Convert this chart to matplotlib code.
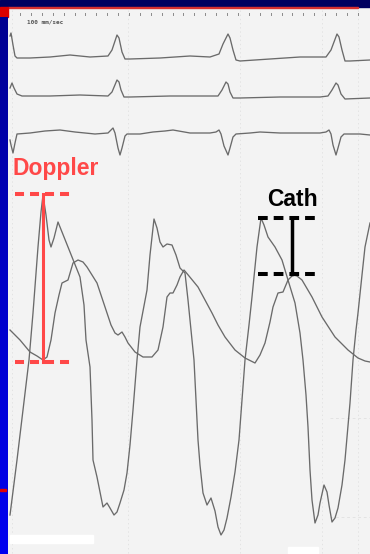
import numpy as np
import matplotlib
matplotlib.use('Agg')
import matplotlib.pyplot as plt

# traces, in pixel coordinates (x, y from the top)
ecg1_x = [10, 11, 13, 15, 17, 30, 50, 70, 90, 108, 112, 117, 119, 122, 125, 130, 160, 190, 210, 219, 223, 228, 230, 233, 236, 240, 270, 300, 326, 331, 337, 339, 342, 345, 350, 370]
ecg1_y = [36, 33, 45, 56, 58, 58, 57, 55, 57, 56, 50, 35, 38, 52, 59, 59, 58, 56, 57, 54, 44, 34, 38, 50, 60, 61, 59, 57, 57, 50, 34, 37, 50, 61, 61, 60]

ecg2_x = [10, 12, 14, 17, 22, 50, 80, 108, 112, 117, 119, 121, 124, 130, 170, 200, 218, 222, 226, 228, 230, 233, 240, 280, 320, 328, 332, 336, 338, 341, 345, 370]
ecg2_y = [88, 83, 88, 94, 96, 96, 95, 96, 92, 80, 82, 90, 97, 97, 96, 96, 96, 90, 82, 84, 92, 98, 98, 97, 97, 96, 90, 83, 85, 94, 99, 98]

ecg3_x = [10, 11, 13, 15, 17, 30, 45, 60, 75, 95, 108, 111, 113, 115, 118, 120, 122, 125, 127, 140, 153, 165, 173, 190, 210, 216, 219, 221, 224, 228, 230, 233, 236, 250, 260, 280, 300, 320, 326, 329, 331, 333, 336, 338, 341, 344, 360, 370]
ecg3_y = [140, 145, 153, 143, 134, 133, 131, 130, 132, 134, 133, 130, 128, 133, 148, 155, 148, 136, 134, 134, 132, 131, 130, 133, 133, 132, 130, 134, 146, 155, 148, 137, 134, 133, 132, 133, 133, 133, 132, 130, 134, 145, 155, 148, 137, 134, 134, 135]

lv_x = [10, 17, 23, 29, 33, 38, 41, 43, 46, 49, 51, 54, 58, 62, 68, 74, 80, 84, 86, 90, 92, 93, 97, 100, 103, 107, 110, 114, 117, 120, 124, 127, 130, 133, 137, 140, 147, 150, 154, 157, 160, 163, 167, 172, 176, 180, 185, 188, 191, 194, 196, 198, 200, 203, 207, 211, 215, 218, 221, 224, 227, 231, 235, 239, 242, 245, 249, 252, 257, 261, 264, 268, 275, 282, 288, 295, 300, 303, 306, 308, 310, 312, 315, 318, 320, 324, 327, 329, 332, 335, 338, 342, 345, 350, 353, 356, 358, 362, 365, 370]
lv_y = [515, 460, 410, 360, 313, 247, 212, 195, 215, 240, 247, 238, 222, 232, 247, 262, 277, 305, 340, 367, 420, 460, 477, 492, 507, 503, 508, 515, 512, 503, 490, 473, 445, 410, 360, 327, 290, 255, 219, 228, 242, 247, 244, 245, 255, 268, 273, 300, 330, 360, 400, 440, 465, 493, 505, 498, 511, 527, 535, 530, 518, 497, 472, 440, 400, 360, 325, 297, 247, 218, 225, 237, 247, 260, 280, 303, 333, 360, 395, 427, 470, 500, 523, 515, 503, 485, 492, 505, 522, 518, 508, 485, 460, 403, 360, 330, 313, 275, 247, 223]

ao_x = [10, 20, 30, 37, 43, 47, 51, 55, 59, 62, 68, 73, 78, 83, 87, 92, 97, 102, 107, 111, 115, 118, 122, 125, 128, 135, 143, 152, 158, 163, 167, 170, 173, 177, 180, 184, 189, 198, 205, 212, 218, 225, 235, 245, 255, 260, 265, 270, 273, 278, 283, 288, 293, 297, 302, 312, 322, 335, 348, 358, 365, 370]
ao_y = [330, 340, 352, 356, 360, 357, 340, 313, 295, 283, 280, 263, 260, 262, 267, 275, 283, 298, 313, 325, 333, 335, 332, 337, 343, 352, 357, 357, 350, 327, 297, 293, 293, 285, 277, 270, 276, 287, 300, 313, 325, 337, 350, 358, 363, 355, 343, 322, 307, 293, 292, 280, 275, 276, 280, 297, 317, 337, 350, 358, 361, 362]

# annotation levels
doppler_top, doppler_bottom, doppler_x = 194, 362, 43
cath_top, cath_bottom, cath_x = 218, 274, 292

plt.rcParams['lines.scale_dashes'] = False
fig = plt.figure(figsize=(3.7, 5.54), dpi=100)
fig.patch.set_facecolor('#f3f3f3')
ax = fig.add_axes([0, 0, 1, 1])
ax.set_xlim(0, 370)
ax.set_ylim(554, 0)
ax.axis('off')

# frame of the slide
ax.add_patch(plt.Rectangle((0, 0), 370, 6.5, color='#000060', zorder=5))
ax.add_patch(plt.Rectangle((8, 6.5), 350, 1.5, color='#d83030', zorder=5))
ax.add_patch(plt.Rectangle((0, 6.5), 7.5, 10.5, color='#dd0000', zorder=5))
grad = np.linspace(0, 1, 200).reshape(-1, 1)
ax.imshow(grad, extent=(0, 8, 554, 17), aspect='auto', zorder=5,
          cmap=matplotlib.colors.LinearSegmentedColormap.from_list('b', ['#000090', '#0000c8', '#0000f0']))
ax.add_patch(plt.Rectangle((0, 489), 6, 1.5, color='#dd0000', zorder=6))
ax.add_patch(plt.Rectangle((10, 535), 83, 8, color='white', zorder=4))
ax.add_patch(plt.Rectangle((288, 547), 30, 7, color='white', zorder=4))

# faint paper grid
for gx in [12, 128, 240, 322, 358]:
    ax.plot([gx, gx], [10, 554], color='#e0e0e0', lw=0.6, ls=(0, (1, 2)), zorder=1)
for gy in [418, 517]:
    ax.plot([330, 370], [gy, gy], color='#e0e0e0', lw=0.6, ls=(0, (2, 2)), zorder=1)

# timing marks along the top
tick_x = np.arange(20, 362, 10.9)
for i, tx in enumerate(tick_x):
    h = 2.5 if i % 5 == 4 else 1.2
    ax.plot([tx, tx], [14 - h / 2, 14 + h / 2], color='#8a8a8a', lw=0.7, zorder=2)
ax.text(27, 24, '100 mm/sec', fontsize=4.3, family='DejaVu Sans Mono',
        fontweight='bold', color='#555555', zorder=3)

# traces
for xs, ys in [(ecg1_x, ecg1_y), (ecg2_x, ecg2_y), (ecg3_x, ecg3_y), (lv_x, lv_y), (ao_x, ao_y)]:
    ax.plot(xs, ys, color='#6a6a6a', lw=0.95, solid_joinstyle='round', zorder=3)

# Doppler gradient
red = '#ff4848'
ax.plot([15, 75], [doppler_top, doppler_top], color=red, lw=2.9, dashes=(6.5, 4.3), solid_capstyle='butt', zorder=6)
ax.plot([15, 75], [doppler_bottom, doppler_bottom], color=red, lw=2.9, dashes=(6.5, 4.3), solid_capstyle='butt', zorder=6)
ax.plot([doppler_x, doppler_x], [doppler_top, doppler_bottom], color=red, lw=2.2, zorder=6)
ax.text(12, 175, 'Doppler', color=red, fontsize=16.5, family='Liberation Sans',
        fontweight='bold', va='baseline', zorder=7)

# Cath gradient
ax.plot([258, 318], [cath_top, cath_top], color='black', lw=2.9, dashes=(7, 4.3), solid_capstyle='butt', zorder=6)
ax.plot([258, 318], [cath_bottom, cath_bottom], color='black', lw=2.9, dashes=(7, 4.3), solid_capstyle='butt', zorder=6)
ax.plot([cath_x, cath_x], [cath_top, cath_bottom], color='black', lw=2.5, zorder=6)
ax.text(267, 206, 'Cath', color='black', fontsize=16.5, family='Liberation Sans',
        fontweight='bold', va='baseline', zorder=7)

fig.savefig('out.png', dpi=100, facecolor=fig.get_facecolor())
